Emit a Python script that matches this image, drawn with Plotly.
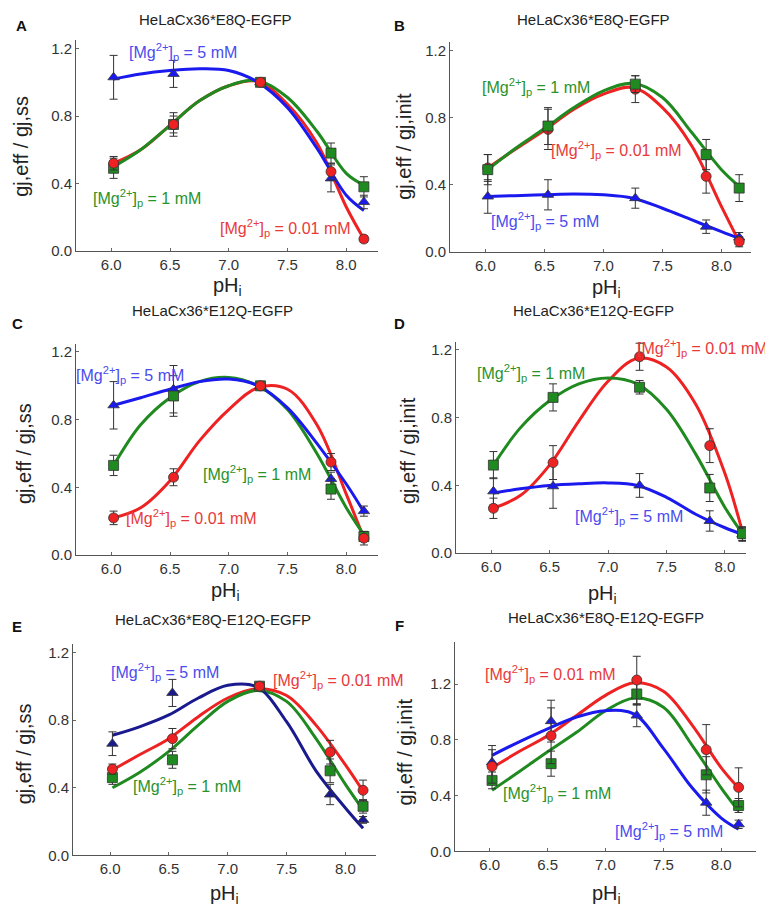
import plotly.graph_objects as go

W, H = 773, 907

# ---------------- data ----------------
ph = [6.02, 6.53, 7.27, 7.87, 8.15]
curve_ph = [6.02, 6.25, 6.5, 6.75, 7.0, 7.25, 7.5, 7.75, 8.0, 8.15]

# Panel A (E8Q, gj,eff/gj,ss)
A_red = [0.52, 0.75, 1.00, 0.47, 0.07]
A_red_err = [0.04, 0.05, 0.02, 0.05, 0.02]
A_green = [0.49, 0.75, 1.00, 0.58, 0.38]
A_green_err = [0.06, 0.07, 0.02, 0.06, 0.06]
A_blue = [1.03, 1.05, 1.00, 0.43, 0.29]
A_blue_err = [0.13, 0.08, 0.02, 0.08, 0.04]
A_red_fit = [0.52, 0.60, 0.745, 0.89, 0.98, 1.005, 0.87, 0.64, 0.26, 0.07]
A_green_fit = [0.50, 0.60, 0.745, 0.89, 0.98, 1.01, 0.91, 0.71, 0.46, 0.39]
A_blue_fit = [1.02, 1.05, 1.07, 1.08, 1.07, 1.00, 0.85, 0.61, 0.33, 0.24]

# Panel B (E8Q, gj,eff/gj,init)
B_red = [0.50, 0.73, 0.97, 0.45, 0.06]
B_red_err = [0.08, 0.12, 0.08, 0.10, 0.03]
B_green = [0.49, 0.75, 1.00, 0.58, 0.38]
B_green_err = [0.09, 0.11, 0.05, 0.09, 0.08]
B_blue = [0.33, 0.34, 0.32, 0.15, 0.085]
B_blue_err = [0.10, 0.09, 0.06, 0.04, 0.03]
B_red_fit = [0.50, 0.61, 0.725, 0.85, 0.94, 0.98, 0.86, 0.63, 0.27, 0.06]
B_green_fit = [0.49, 0.615, 0.735, 0.86, 0.96, 1.005, 0.92, 0.71, 0.49, 0.39]
B_blue_fit = [0.33, 0.335, 0.34, 0.345, 0.34, 0.32, 0.26, 0.19, 0.12, 0.08]

# Panel C (E12Q, gj,eff/gj,ss)
C_red = [0.22, 0.46, 1.00, 0.55, 0.10]
C_red_err = [0.04, 0.05, 0.02, 0.05, 0.04]
C_green = [0.53, 0.94, 1.00, 0.39, 0.11]
C_green_err = [0.06, 0.12, 0.02, 0.06, 0.03]
C_blue = [0.885, 0.98, 1.00, 0.45, 0.26]
C_blue_err = [0.14, 0.14, 0.02, 0.04, 0.03]
C_red_fit = [0.22, 0.28, 0.44, 0.675, 0.86, 0.99, 0.98, 0.77, 0.36, 0.10]
C_green_fit = [0.53, 0.77, 0.93, 1.025, 1.05, 1.00, 0.86, 0.60, 0.28, 0.12]
C_blue_fit = [0.885, 0.93, 0.98, 1.025, 1.04, 1.00, 0.87, 0.66, 0.42, 0.255]

# Panel D (E12Q, gj,eff/gj,init)
D_red = [0.265, 0.535, 1.16, 0.635, 0.115]
D_red_err = [0.06, 0.10, 0.08, 0.10, 0.04]
D_green = [0.52, 0.92, 0.98, 0.385, 0.115]
D_green_err = [0.08, 0.08, 0.04, 0.08, 0.04]
D_blue = [0.365, 0.395, 0.40, 0.19, 0.11]
D_blue_err = [0.08, 0.13, 0.07, 0.06, 0.04]
D_red_fit = [0.265, 0.34, 0.52, 0.78, 1.015, 1.15, 1.10, 0.88, 0.47, 0.125]
D_green_fit = [0.52, 0.74, 0.90, 1.00, 1.035, 1.00, 0.85, 0.585, 0.27, 0.115]
D_blue_fit = [0.355, 0.38, 0.40, 0.41, 0.415, 0.40, 0.33, 0.23, 0.15, 0.11]

# Panel E (E8Q-E12Q, gj,eff/gj,ss)
E_red = [0.51, 0.69, 1.00, 0.61, 0.385]
E_red_err = [0.03, 0.06, 0.02, 0.07, 0.06]
E_green = [0.46, 0.565, 1.00, 0.50, 0.29]
E_green_err = [0.04, 0.05, 0.02, 0.07, 0.04]
E_blue = [0.66, 0.96, 1.00, 0.36, 0.21]
E_blue_err = [0.07, 0.08, 0.02, 0.06, 0.02]
E_red_fit = [0.505, 0.595, 0.69, 0.82, 0.93, 0.985, 0.945, 0.77, 0.535, 0.38]
E_green_fit = [0.40, 0.49, 0.615, 0.77, 0.91, 0.975, 0.91, 0.69, 0.42, 0.27]
E_blue_fit = [0.71, 0.76, 0.83, 0.93, 1.005, 0.995, 0.79, 0.50, 0.28, 0.16]

# Panel F (E8Q-E12Q, gj,eff/gj,init)
F_red = [0.61, 0.83, 1.23, 0.73, 0.46]
F_red_err = [0.12, 0.20, 0.17, 0.18, 0.14]
F_green = [0.51, 0.63, 1.13, 0.55, 0.33]
F_green_err = [0.06, 0.09, 0.08, 0.13, 0.05]
F_blue = [0.64, 0.935, 0.975, 0.35, 0.195]
F_blue_err = [0.12, 0.15, 0.08, 0.09, 0.03]
F_red_fit = [0.60, 0.715, 0.83, 0.975, 1.12, 1.21, 1.15, 0.905, 0.60, 0.455]
F_green_fit = [0.44, 0.57, 0.715, 0.855, 1.01, 1.10, 1.035, 0.76, 0.455, 0.29]
F_blue_fit = [0.69, 0.785, 0.88, 0.965, 1.01, 0.985, 0.74, 0.455, 0.24, 0.16]

titles = ["HeLaCx36*E8Q-EGFP", "HeLaCx36*E8Q-EGFP", "HeLaCx36*E12Q-EGFP",
          "HeLaCx36*E12Q-EGFP", "HeLaCx36*E8Q-E12Q-EGFP", "HeLaCx36*E8Q-E12Q-EGFP"]
letters = ["A", "B", "C", "D", "E", "F"]
ytitles = ["gj,eff / gj,ss", "gj,eff / gj,init", "gj,eff / gj,ss",
           "gj,eff / gj,init", "gj,eff / gj,ss", "gj,eff / gj,init"]
xtitle = "pH<sub>i</sub>"
xticks = [6.0, 6.5, 7.0, 7.5, 8.0]
xtick_text = ["6.0", "6.5", "7.0", "7.5", "8.0"]
yticks = [0.0, 0.4, 0.8, 1.2]
ytick_text = ["0.0", "0.4", "0.8", "1.2"]
mg_labels = ["[Mg<sup>2+</sup>]<sub>p</sub> = 0.01 mM",
             "[Mg<sup>2+</sup>]<sub>p</sub> = 1 mM",
             "[Mg<sup>2+</sup>]<sub>p</sub> = 5 mM"]

panels = [
    (A_red, A_red_err, A_green, A_green_err, A_blue, A_blue_err, A_red_fit, A_green_fit, A_blue_fit),
    (B_red, B_red_err, B_green, B_green_err, B_blue, B_blue_err, B_red_fit, B_green_fit, B_blue_fit),
    (C_red, C_red_err, C_green, C_green_err, C_blue, C_blue_err, C_red_fit, C_green_fit, C_blue_fit),
    (D_red, D_red_err, D_green, D_green_err, D_blue, D_blue_err, D_red_fit, D_green_fit, D_blue_fit),
    (E_red, E_red_err, E_green, E_green_err, E_blue, E_blue_err, E_red_fit, E_green_fit, E_blue_fit),
    (F_red, F_red_err, F_green, F_green_err, F_blue, F_blue_err, F_red_fit, F_green_fit, F_blue_fit),
]

# ---------------- layout geometry (pixels) ----------------
boxes = [
    (68, 370, 32.5, 245, [5.70, 8.27], [0, 1.25]),
    (442, 743, 34.5, 246, [5.70, 8.25], [0, 1.25]),
    (68, 370, 338.5, 552, [5.70, 8.27], [0, 1.25]),
    (448, 738, 336.5, 550, [5.70, 8.18], [0, 1.25]),
    (65, 368, 641.5, 855, [5.685, 8.26], [0, 1.25]),
    (447, 748, 640, 851, [5.70, 8.30], [0, 1.5]),
]

RED = "#ee2222"
GREEN = "#1f8a1f"
BLUE = "#1a1aee"
NAVY = "#1a1a8f"
RED_T = "#e83a3a"
GREEN_T = "#2a922a"
BLUE_T = "#4b4bee"
FONT = "Liberation Sans, Arial, sans-serif"

label_pos = [
    [(277, 222), (139, 192), (175, 44)],
    [(608, 143), (528, 80), (537, 215)],
    [(183, 515), (249, 470), (122, 370)],
    [(694, 343), (523, 368), (621, 513)],
    [(330, 678), (179, 785), (157, 670)],
    [(542, 672), (549, 792), (661, 830)],
]
letter_pos = [(14, 18), (391, 18), (9, 318), (391, 318), (9, 624), (391, 623)]
title_pos = [(207, 12), (585, 12), (205, 305), (585, 305), (205, 617), (598, 615)]
ytitle_pos = [(13, 140), (396, 140), (16, 450), (400, 447), (16, 753), (397, 750)]
xtitle_pos = [(219, 281), (598, 283), (217, 589), (594, 592), (216, 894), (598, 894)]

fig = go.Figure()
annotations = []
layout = dict(width=W, height=H, margin=dict(l=0, r=0, t=0, b=0),
              paper_bgcolor="white", plot_bgcolor="white", showlegend=False,
              font=dict(family=FONT, color="#222"))


def ann(x, y, text, size, color, angle=0):
    return dict(x=x / W, y=1 - y / H, xref="paper", yref="paper", text=text,
                showarrow=False, xanchor="center", yanchor="middle", textangle=angle,
                font=dict(size=size, color=color, family=FONT))


for i, (p, box) in enumerate(zip(panels, boxes)):
    red, rerr, green, gerr, blue, berr, rfit, gfit, bfit = p
    left, right, top, bottom, xr, yr = box
    n = "" if i == 0 else str(i + 1)
    xa, ya = "x" + n, "y" + n
    bluec = NAVY if i == 4 else BLUE
    for fit, col in [(rfit, RED), (gfit, GREEN), (bfit, bluec)]:
        fig.add_trace(go.Scatter(x=curve_ph, y=fit, mode="lines",
                                 line=dict(color=col, width=3, shape="spline", smoothing=1.0),
                                 xaxis=xa, yaxis=ya, hoverinfo="skip"))
    order = [(blue, berr, "triangle-up", bluec), (green, gerr, "square", GREEN), (red, rerr, "circle", RED)]
    if i in (1, 3):
        order = [(blue, berr, "triangle-up", bluec), (red, rerr, "circle", RED), (green, gerr, "square", GREEN)]
    for vals, errs, sym, col in order:
        fig.add_trace(go.Scatter(x=ph, y=vals, mode="markers",
                                 marker=dict(symbol=sym, size=10, color=col,
                                             line=dict(color="#333", width=0.8)),
                                 error_y=dict(type="data", array=errs, visible=True,
                                              color="#333", thickness=1, width=4),
                                 xaxis=xa, yaxis=ya))
    axis_common = dict(ticks="inside", ticklen=3, tickcolor="#666", showline=True,
                       linecolor="#555", linewidth=1, showgrid=False, zeroline=False,
                       mirror=False, tickfont=dict(size=15, color="#333", family=FONT))
    layout["xaxis" + n] = dict(domain=[left / W, right / W], range=xr, anchor=ya,
                               tickvals=xticks, ticktext=xtick_text, **axis_common)
    layout["yaxis" + n] = dict(domain=[1 - bottom / H, 1 - top / H], range=yr, anchor=xa,
                               tickvals=yticks, ticktext=ytick_text, **axis_common)
    for (lx, ly), txt, col in zip(label_pos[i], mg_labels, [RED_T, GREEN_T, BLUE_T]):
        annotations.append(ann(lx, ly, txt, 16, col))
    lx, ly = letter_pos[i]
    annotations.append(ann(lx, ly, "<b>" + letters[i] + "</b>", 15, "#111"))
    tx, ty = title_pos[i]
    annotations.append(ann(tx, ty, titles[i], 15, "#222"))
    yx, yy = ytitle_pos[i]
    annotations.append(ann(yx, yy, ytitles[i], 20, "#222", angle=-90))
    xx, xy = xtitle_pos[i]
    annotations.append(ann(xx, xy, xtitle, 20, "#222"))

layout["annotations"] = annotations
fig.update_layout(**layout)
fig.write_html("out.html")
